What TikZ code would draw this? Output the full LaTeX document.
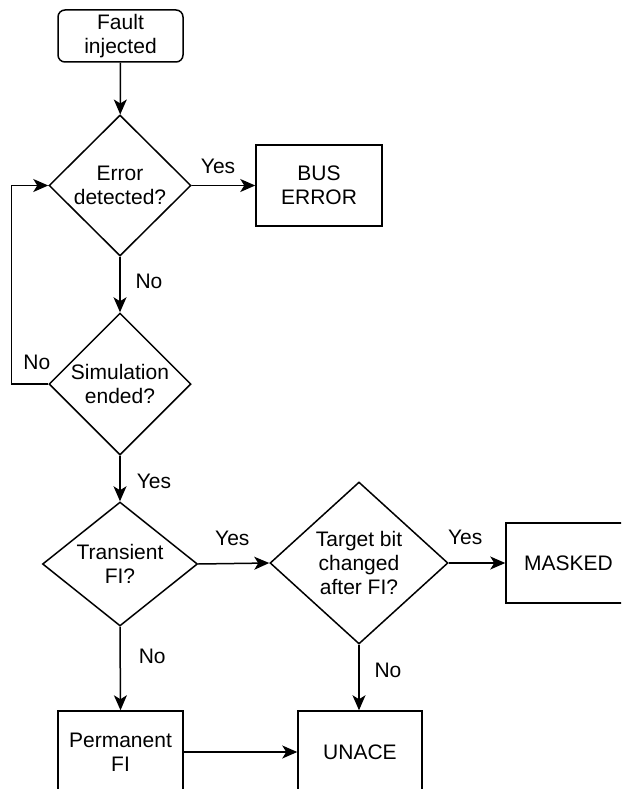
\documentclass[tikz,border=0pt]{standalone}
\usepackage{fontspec}
\setmainfont{Liberation Sans}
\usetikzlibrary{shapes.geometric,arrows.meta}

\begin{document}
\begin{tikzpicture}[x=1pt,y=-1pt,
  every node/.style={font=\fontsize{21}{24}\selectfont},
  base/.style={draw=black, line width=1.5pt, inner sep=0pt, align=center},
  box/.style={base, rectangle, minimum width=125pt, minimum height=81pt},
  startbox/.style={base, rectangle, rounded corners=7pt, minimum width=125pt, minimum height=52pt},
  dec/.style={base, diamond},
  inlabel/.style={label={[align=center, inner sep=0pt]center:#1}},
  arr/.style={line width=1.5pt, -{Stealth[length=15pt,width=13pt,inset=4pt]}},
  lab/.style={inner sep=0pt}
]
\fill[white] (0,0) rectangle (621,789);
\useasboundingbox (0,0) rectangle (621,789);
\clip (0,0) rectangle (621,789);

% process boxes
\node[startbox] (fault) at (120.5,36) {Fault\\injected};
\node[box, minimum width=126pt] (bus) at (319,185.5) {BUS\\ERROR};
\node[box, minimum height=80pt] (masked) at (568.5,563) {MASKED};
\node[box, minimum height=82pt] (perm) at (120.5,752) {Permanent\\FI};
\node[box, minimum width=124pt, minimum height=82pt] (unace) at (360,752) {UNACE};

% decisions
\node[dec, minimum width=142pt, minimum height=141pt, inlabel={Error\\detected?}] (err) at (120,185.5) {};
\node[dec, minimum width=142pt, minimum height=142pt, inlabel={Simulation\\ended?}] (sim) at (120,384) {};
\node[dec, minimum width=155pt, minimum height=124pt, inlabel={Transient\\FI?}] (trans) at (120,564) {};
\node[dec, minimum width=178pt, minimum height=162pt, inlabel={Target bit\\changed\\after FI?}] (tgt) at (359,563) {};

% connectors
\draw[arr] (fault) -- (err);
\draw[arr] (err.east) -- node[lab, pos=0.415, yshift=19pt] {Yes} (bus);
\draw[arr] (err.south) -- node[lab, pos=0.44, xshift=29pt] {No} (sim.north);
\draw[arr] (sim.west) -- node[lab, pos=0.31, yshift=22pt] {No} ++(-37,0) |- (err.west);
\draw[arr] (sim.south) -- node[lab, pos=0.57, xshift=34pt] {Yes} (trans.north);
\draw[arr] (trans.east) -- node[lab, pos=0.48, yshift=25pt] {Yes} (tgt.west);
\draw[arr] (tgt.east) -- node[lab, pos=0.29, yshift=26pt] {Yes} (masked.west);
\draw[arr] (trans.south) -- node[lab, pos=0.35, xshift=32pt] {No} (perm.north);
\draw[arr] (tgt.south) -- node[lab, pos=0.39, xshift=29pt] {No} (tgt.south |- unace.north);
\draw[arr] (perm.east) -- (unace.west);
\end{tikzpicture}
\end{document}
